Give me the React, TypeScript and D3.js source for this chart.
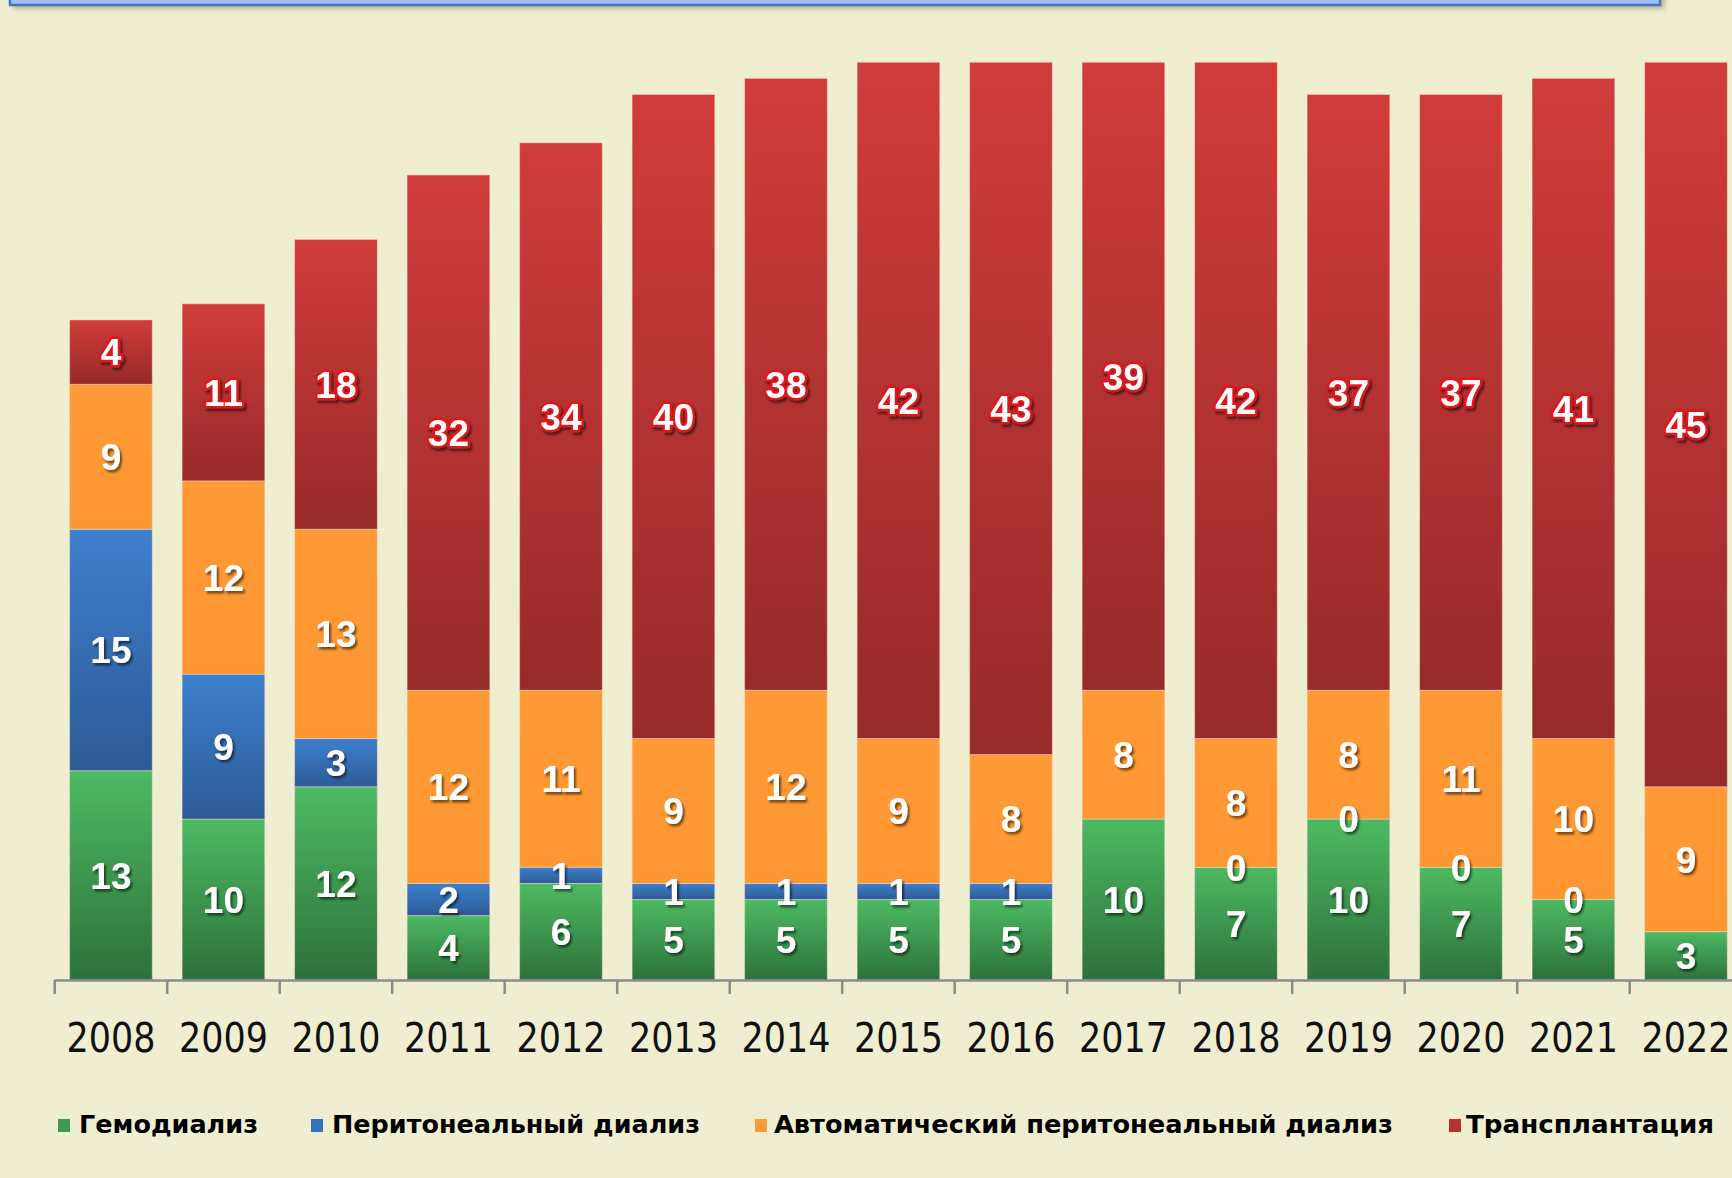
import React from "react";
import * as d3 from "d3";

const years = ["2008","2009","2010","2011","2012","2013","2014","2015","2016","2017","2018","2019","2020","2021","2022"];
const hemo = [13,10,12,4,6,5,5,5,5,10,7,10,7,5,3];
const pd: (number|null)[] = [15,9,3,2,1,1,1,1,1,null,0,0,0,0,null];
const apd = [9,12,13,12,11,9,12,9,8,8,8,8,11,10,9];
const tx = [4,11,18,32,34,40,38,42,43,39,42,37,37,41,45];

const seriesNames = ["Гемодиализ","Перитонеальный диализ","Автоматический перитонеальный диализ","Трансплантация"];
const seriesKeys = ["hemo","pd","apd","tx"];

const W = 1732, H = 1178;
const BG = "#F0EED0";

const gradients: Record<string,[string,string]> = {
  hemo: ["#4DBA63","#2D713A"],
  pd: ["#3D80CE","#2D5A95"],
  apd: ["#FE9A35","#FD9733"],
  tx: ["#D03C3A","#972A2A"],
};
const legendColors = ["#3E9A4E","#3670BB","#FE9A35","#B53332"];

const legendLayout = [
  { mx: 58, tx: 79, tw: 179 },
  { mx: 311, tx: 332, tw: 368 },
  { mx: 755, tx: 774, tw: 619 },
  { mx: 1449, tx: 1466, tw: 248 },
];

export default function App() {
  const rows = years.map((y, i) => ({
    year: y,
    hemo: hemo[i],
    pd: pd[i] ?? 0,
    apd: apd[i],
    tx: tx[i],
  }));
  const raw: Record<string,(number|null)[]> = { hemo, pd, apd, tx };
  const stack = d3.stack<any>().keys(seriesKeys)(rows);

  const x = d3.scaleBand<string>().domain(years).range([54.7, 54.7 + 15 * 112.5]).paddingInner(0.265).paddingOuter(0.1325);
  const y = d3.scaleLinear().domain([0, 57]).range([980, 62.3]);
  const step = x.step();
  const x0 = 54.7;

  return (
    <div style={{ position: "absolute", left: 0, top: 0, width: W, height: H }}>
      <svg width={W} height={H} style={{ display: "block" }}>
        <defs>
          {seriesKeys.map((k) => (
            <linearGradient key={k} id={"g-" + k} x1="0" y1="0" x2="0" y2="1">
              <stop offset="0" stopColor={gradients[k][0]} />
              <stop offset="1" stopColor={gradients[k][1]} />
            </linearGradient>
          ))}
          <filter id="shadow" x="-30%" y="-30%" width="160%" height="160%">
            <feDropShadow dx="2" dy="2.5" stdDeviation="1.3" floodColor="#000" floodOpacity="0.55" />
          </filter>
          <filter id="boxshadow" x="-5%" y="-100%" width="110%" height="300%">
            <feGaussianBlur stdDeviation="2.5" />
          </filter>
        </defs>
        <rect x={0} y={0} width={W} height={H} fill={BG} />

        {/* top box (cropped) */}
        <rect x={13} y={-30} width={1652} height={39} fill="#8a8a70" opacity={0.55} filter="url(#boxshadow)" />
        <rect x={10} y={-30} width={1650} height={35} fill="#9DBEF7" stroke="#4673BA" strokeWidth={2.5} />

        {/* bars */}
        {stack.map((s, si) => (
          <g key={s.key}>
            {s.map((d, i) => {
              const top = y(d[1]);
              const bot = y(d[0]);
              const h = bot - top;
              if (h <= 0) return null;
              return (
                <rect key={i} x={x(years[i])!} y={top} width={x.bandwidth()} height={h}
                  fill={`url(#g-${s.key})`} stroke="rgba(255,225,210,0.45)" strokeWidth={1} />
              );
            })}
          </g>
        ))}

        {/* axis */}
        <line x1={x0} x2={W} y1={980.5} y2={980.5} stroke="#8C8C8C" strokeWidth={2.5} />
        {d3.range(16).map((i) => (
          <line key={i} x1={x0 + i * step} x2={x0 + i * step} y1={980} y2={994} stroke="#8C8C8C" strokeWidth={2.5} />
        ))}
        {years.map((yr) => (
          <text key={yr} x={x(yr)! + x.bandwidth() / 2} y={1052} textAnchor="middle"
            fontFamily="DejaVu Sans, Verdana, sans-serif" fontSize={41} fill="#111"
            textLength={89} lengthAdjust="spacingAndGlyphs">{yr}</text>
        ))}

        {/* labels */}
        {stack.map((s) => (
          <g key={"l" + s.key}>
            {s.map((d, i) => {
              const v = raw[s.key][i];
              if (v === null || v === undefined) return null;
              const cy = (y(d[0]) + y(d[1])) / 2;
              const cx = x(years[i])! + x.bandwidth() / 2;
              const isRed = s.key === "tx";
              return (
                <g key={i} filter="url(#shadow)">
                  {isRed && (
                    <text x={cx} y={cy} dy="0.36em" textAnchor="middle" fontFamily="Liberation Sans, Arial, sans-serif"
                      fontWeight="bold" fontSize={37} fill="#fff" stroke="#E0191C" strokeWidth={5} strokeLinejoin="round">{v}</text>
                  )}
                  <text x={cx} y={cy} dy="0.36em" textAnchor="middle" fontFamily="Liberation Sans, Arial, sans-serif"
                    fontWeight="bold" fontSize={37} fill="#fff">{v}</text>
                </g>
              );
            })}
          </g>
        ))}

        {/* legend */}
        {seriesNames.map((n, i) => (
          <g key={n}>
            <rect x={legendLayout[i].mx} y={1119} width={12} height={13} fill={legendColors[i]} />
            <text x={legendLayout[i].tx} y={1133} fontFamily="DejaVu Sans, Verdana, sans-serif" fontWeight="bold"
              fontSize={25} fill="#000" textLength={legendLayout[i].tw} lengthAdjust="spacingAndGlyphs">{n}</text>
          </g>
        ))}
      </svg>
    </div>
  );
}
